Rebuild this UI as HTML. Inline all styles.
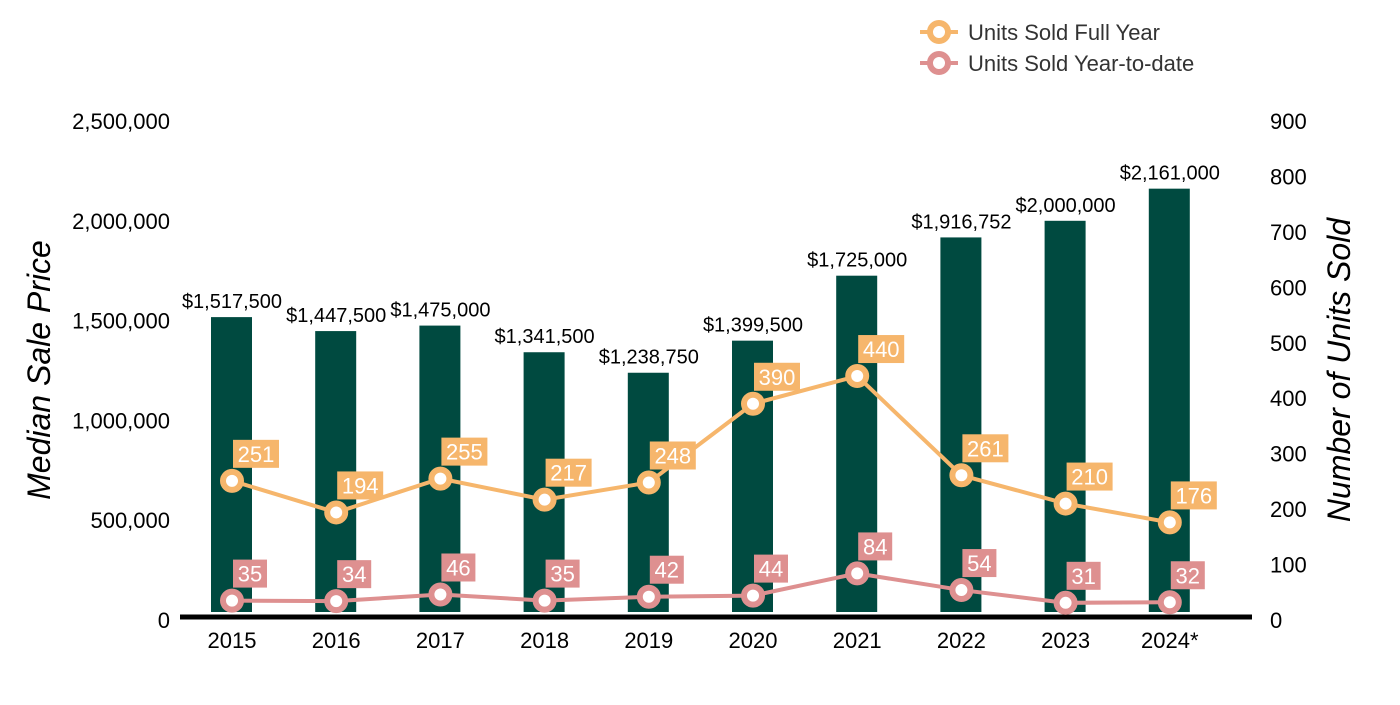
<!DOCTYPE html>
<html><head><meta charset="utf-8"><style>
body{margin:0;background:#fff;font-family:"Liberation Sans",sans-serif}
svg text{font-family:"Liberation Sans",sans-serif}
</style></head><body>
<svg id="c" width="1400" height="700">
<g id="legend">
 <g>
  <line x1="920" y1="32" x2="958" y2="32" stroke="#f6b66c" stroke-width="4"/>
  <circle cx="939" cy="32" r="9" fill="#fff" stroke="#f6b66c" stroke-width="6"/>
  <text x="968" y="40" font-size="22" fill="#333">Units Sold Full Year</text>
 </g>
 <g>
  <line x1="920" y1="63" x2="958" y2="63" stroke="#de9090" stroke-width="4"/>
  <circle cx="939" cy="63" r="9" fill="#fff" stroke="#de9090" stroke-width="6"/>
  <text x="968" y="71" font-size="22" fill="#333">Units Sold Year-to-date</text>
 </g>
</g>
<text transform="translate(50,370) rotate(-90)" text-anchor="middle" font-size="32" font-style="italic" fill="#000">Median Sale Price</text>
<text transform="translate(1350,370) rotate(-90)" text-anchor="middle" font-size="32" font-style="italic" fill="#000">Number of Units Sold</text>
</svg>
<script>
const categories=["2015","2016","2017","2018","2019","2020","2021","2022","2023","2024*"];
const prices=[1517500,1447500,1475000,1341500,1238750,1399500,1725000,1916752,2000000,2161000];
const unitsFull=[251,194,255,217,248,390,440,261,210,176];
const unitsYtd=[35,34,46,35,42,44,84,54,31,32];
const leftTicks=[0,500000,1000000,1500000,2000000,2500000];
const rightTicks=[0,100,200,300,400,500,600,700,800,900];
const NS="http://www.w3.org/2000/svg";
const svg=document.getElementById('c');
const y0=620;
const yL=v=>y0-v/2500000*499;
const yR=v=>y0-v/900*499;
const xC=i=>232+i*104.2;
function mk(t,a,p){const e=document.createElementNS(NS,t);for(const k in a)e.setAttribute(k,a[k]);(p||svg).appendChild(e);return e;}
const fmt=n=>n.toLocaleString('en-US');
leftTicks.forEach(v=>{const t=mk('text',{x:170,y:yL(v)+8,'text-anchor':'end','font-size':22,fill:'#000'});t.textContent=fmt(v);

});
rightTicks.forEach(v=>{const t=mk('text',{x:1270,y:yR(v)+8,'font-size':22,fill:'#000'});t.textContent=v;

});
prices.forEach((v,i)=>{const r=mk('rect',{x:xC(i)-21,y:yL(v),width:41,height:612-yL(v),fill:'#004a40'});


const t=mk('text',{x:xC(i),y:yL(v)-9,'text-anchor':'middle','font-size':20,fill:'#000'});t.textContent='$'+fmt(v);

});
const ax=mk('line',{x1:180,y1:617,x2:1252,y2:617,stroke:'#000','stroke-width':5});


categories.forEach((c,i)=>{const t=mk('text',{x:xC(i),y:648,'text-anchor':'middle','font-size':22,fill:'#000'});t.textContent=c;

});
function series(vals,col,name){
 const p=mk('polyline',{points:vals.map((v,i)=>xC(i)+','+yR(v)).join(' '),fill:'none',stroke:col,'stroke-width':4});
 
 
 vals.forEach((v,i)=>{const cx=xC(i),cy=yR(v);
  const c=mk('circle',{cx:cx,cy:cy,r:9,fill:'#fff',stroke:col,'stroke-width':6});
  
  
  const w=String(v).length*12+10;
  const b=mk('rect',{x:cx+1,y:cy-41,width:w,height:28,fill:col});
  
  
  const t=mk('text',{x:cx+1+w/2,y:cy-19,'text-anchor':'middle','font-size':22,fill:'#fff'});t.textContent=v;
  
  
 });
}
series(unitsFull,'#f6b66c','units-full-year');
series(unitsYtd,'#de9090','units-ytd');
</script>
</body></html>
